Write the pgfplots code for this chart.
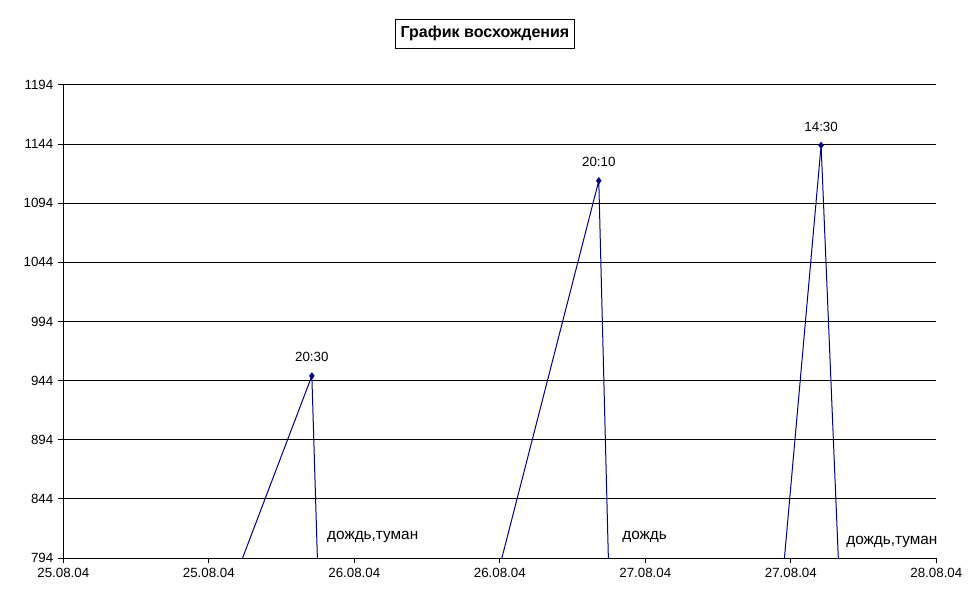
\documentclass[border=0pt]{standalone}
\usepackage{fontspec}
\setmainfont{Liberation Sans}
\usepackage{pgfplots}
\pgfplotsset{compat=1.18}
\definecolor{navyline}{RGB}{0,0,128}
\begin{document}
\begin{tikzpicture}
\path[use as bounding box] (0pt,0pt) rectangle (727.5pt,453pt);
\node[draw=black, line width=0.6pt, font=\bfseries\fontsize{12}{14}\selectfont, inner xsep=4pt, inner ysep=4pt, minimum height=21.75pt] at (363.75pt,427.9pt) {График восхождения};
\begin{axis}[
  at={(47.5pt,34.5pt)}, anchor=south west,
  scale only axis, width=654.75pt, height=354.75pt,
  xmin=0, xmax=3, ymin=794, ymax=1194,
  axis x line*=bottom, axis y line*=left,
  axis line style={-, black, line width=0.75pt},
  xtick={0,0.5,1,1.5,2,2.5,3},
  xticklabels={25.08.04,25.08.04,26.08.04,26.08.04,27.08.04,27.08.04,28.08.04},
  ytick={794,844,894,944,994,1044,1094,1144,1194},
  ymajorgrids, grid style={black, line width=0.75pt},
  tick align=outside, major tick length=4pt,
  tick style={black, line width=0.75pt},
  ticklabel style={font=\fontsize{10}{12}\selectfont},
  /pgf/number format/assume math mode=true,
  /pgf/number format/1000 sep={},
  yticklabel style={/pgf/number format/fixed, /pgf/number format/precision=0},
]
\addplot[navyline, line width=0.75pt, no marks] table {
x y
0.316 600
0.854 948
0.897 600
1.3045 600
1.840 1113
1.893 600
2.408 600
2.604 1143
2.696 600
};
\addplot[navyline, only marks, mark=diamond*, mark size=2.4pt,
  nodes near coords, point meta=explicit symbolic,
  every node near coord/.append style={black, font=\fontsize{10}{12}\selectfont, yshift=7pt}]
  coordinates {(0.854,948)[20:30] (1.840,1113)[20:10] (2.604,1143)[14:30]};
\node[anchor=west, font=\fontsize{11.5}{13}\selectfont, inner sep=0pt] at (axis cs:0.906,811.5) {дождь,туман};
\node[anchor=west, font=\fontsize{11.5}{13}\selectfont, inner sep=0pt] at (axis cs:1.920,811.5) {дождь};
\node[anchor=west, font=\fontsize{11.5}{13}\selectfont, inner sep=0pt] at (axis cs:2.690,807.5) {дождь,туман};
\end{axis}
\end{tikzpicture}
\end{document}
